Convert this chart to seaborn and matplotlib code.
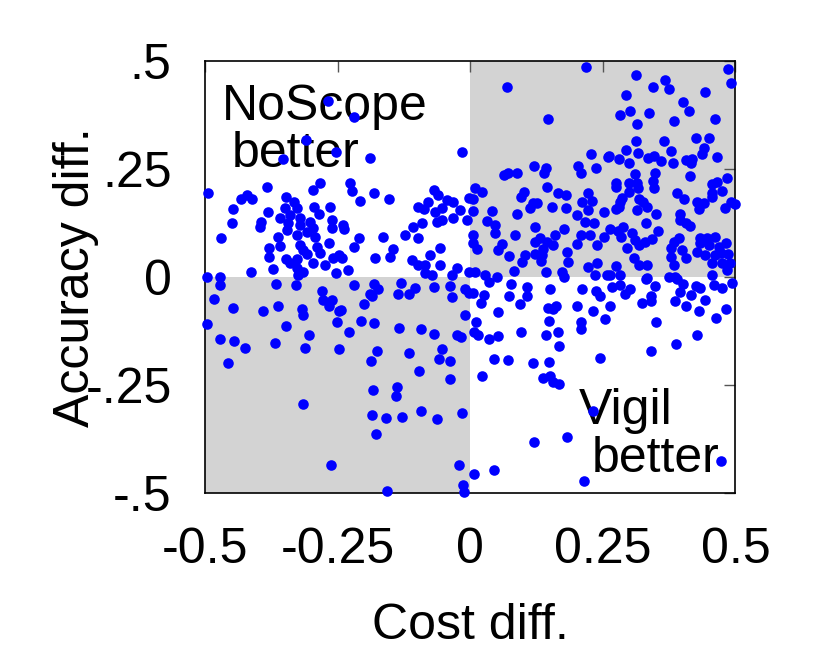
import matplotlib
matplotlib.use("Agg")
import matplotlib.pyplot as plt
from matplotlib.patches import Rectangle
import seaborn as sns
import pandas as pd

# (cost diff, accuracy diff) pairs

# upper left, x < -0.25
pts_ul_far = [(-0.268, 0.408), (-0.309, 0.317), (-0.353, 0.273), (-0.253, 0.290), (-0.494, 0.194),
              (-0.284, 0.217), (-0.296, 0.201), (-0.384, 0.208), (-0.433, 0.181), (-0.420, 0.190),
              (-0.412, 0.181), (-0.448, 0.157), (-0.347, 0.186), (-0.332, 0.174), (-0.349, 0.159),
              (-0.327, 0.159), (-0.381, 0.150), (-0.358, 0.136), (-0.340, 0.144), (-0.321, 0.136),
              (-0.294, 0.163), (-0.286, 0.146), (-0.264, 0.163), (-0.394, 0.128), (-0.396, 0.116),
              (-0.450, 0.124), (-0.343, 0.124), (-0.321, 0.120), (-0.302, 0.128), (-0.261, 0.132),
              (-0.346, 0.109), (-0.327, 0.097), (-0.308, 0.105), (-0.296, 0.113), (-0.292, 0.093),
              (-0.261, 0.113), (-0.470, 0.091), (-0.362, 0.093), (-0.358, 0.072), (-0.379, 0.068),
              (-0.321, 0.074), (-0.315, 0.063), (-0.308, 0.053), (-0.289, 0.070), (-0.267, 0.078),
              (-0.283, 0.055), (-0.379, 0.047), (-0.347, 0.042), (-0.327, 0.042), (-0.340, 0.032),
              (-0.296, 0.032), (-0.274, 0.028), (-0.259, 0.043), (-0.371, 0.018), (-0.327, 0.022),
              (-0.315, 0.012), (-0.413, 0.012), (-0.497, 0.001), (-0.472, 0.001), (-0.324, 0.005),
              (-0.253, 0.009)]

# upper left, -0.25 < x < 0
pts_ul_near = [(-0.220, 0.371), (-0.189, 0.276), (-0.016, 0.290), (-0.226, 0.217), (-0.223, 0.199),
               (-0.208, 0.176), (-0.182, 0.194), (-0.154, 0.181), (-0.069, 0.201), (-0.060, 0.190),
               (-0.099, 0.163), (-0.079, 0.174), (-0.088, 0.157), (-0.066, 0.151), (-0.044, 0.178),
               (-0.032, 0.174), (-0.053, 0.159), (-0.019, 0.155), (-0.032, 0.136), (-0.006, 0.132),
               (-0.003, 0.182), (-0.063, 0.128), (-0.053, 0.132), (-0.239, 0.120), (-0.237, 0.111),
               (-0.090, 0.124), (-0.108, 0.116), (-0.123, 0.097), (-0.099, 0.091), (-0.164, 0.093),
               (-0.209, 0.090), (-0.220, 0.070), (-0.248, 0.051), (-0.242, 0.043), (-0.145, 0.064),
               (-0.151, 0.047), (-0.179, 0.045), (-0.057, 0.068), (-0.075, 0.051), (-0.110, 0.039),
               (-0.098, 0.028), (-0.085, 0.029), (-0.057, 0.029), (-0.025, 0.020), (-0.003, 0.012),
               (-0.085, 0.009), (-0.072, 0.005), (-0.035, 0.005), (-0.230, 0.016)]

# upper right, 0 < x < 0.25
pts_ur_near = [(0.219, 0.485), (0.070, 0.439), (0.147, 0.365), (0.228, 0.285), (0.259, 0.278),
               (0.121, 0.257), (0.142, 0.253), (0.140, 0.241), (0.063, 0.236), (0.072, 0.240),
               (0.088, 0.240), (0.204, 0.257), (0.209, 0.240), (0.238, 0.253), (0.009, 0.207),
               (0.022, 0.197), (0.005, 0.181), (0.145, 0.209), (0.101, 0.197), (0.096, 0.186),
               (0.165, 0.195), (0.181, 0.190), (0.223, 0.195), (0.119, 0.171), (0.126, 0.172),
               (0.113, 0.159), (0.154, 0.161), (0.181, 0.159), (0.211, 0.174), (0.230, 0.177),
               (0.005, 0.153), (0.041, 0.153), (0.088, 0.146), (0.201, 0.144), (0.252, 0.150),
               (0.223, 0.155), (0.032, 0.130), (0.047, 0.120), (0.217, 0.128), (0.233, 0.124),
               (0.047, 0.101), (0.123, 0.115), (0.176, 0.111), (0.160, 0.097), (0.085, 0.097),
               (0.208, 0.097), (0.226, 0.097), (0.252, 0.093), (0.006, 0.097), (0.006, 0.078),
               (0.013, 0.066), (0.060, 0.076), (0.053, 0.063), (0.132, 0.091), (0.145, 0.082),
               (0.123, 0.080), (0.157, 0.074), (0.138, 0.066), (0.123, 0.053), (0.135, 0.051),
               (0.104, 0.051), (0.098, 0.035), (0.074, 0.049), (0.201, 0.076), (0.239, 0.074),
               (0.182, 0.059), (0.185, 0.035), (0.133, 0.037), (0.223, 0.024), (0.239, 0.032),
               (0.236, 0.005), (0.258, 0.005), (0.082, 0.014), (0.143, 0.011), (0.173, 0.012),
               (0.176, 0.001), (0.009, 0.012), (0.028, 0.005), (0.050, 0.001)]

# upper right, x > 0.25
pts_ur_far = [(0.486, 0.481), (0.491, 0.450), (0.313, 0.468), (0.368, 0.456), (0.374, 0.434),
              (0.344, 0.439), (0.443, 0.429), (0.294, 0.421), (0.402, 0.406), (0.412, 0.385),
              (0.302, 0.383), (0.283, 0.375), (0.338, 0.380), (0.315, 0.353), (0.384, 0.362),
              (0.461, 0.366), (0.425, 0.321), (0.450, 0.321), (0.313, 0.315), (0.365, 0.315),
              (0.440, 0.298), (0.437, 0.284), (0.294, 0.294), (0.316, 0.286), (0.379, 0.292),
              (0.465, 0.278), (0.261, 0.280), (0.281, 0.272), (0.300, 0.263), (0.335, 0.275),
              (0.346, 0.280), (0.360, 0.269), (0.382, 0.263), (0.406, 0.271), (0.418, 0.273),
              (0.417, 0.263), (0.415, 0.234), (0.310, 0.238), (0.348, 0.240), (0.345, 0.222),
              (0.346, 0.205), (0.275, 0.218), (0.275, 0.209), (0.300, 0.217), (0.315, 0.217),
              (0.316, 0.205), (0.484, 0.230), (0.455, 0.215), (0.465, 0.221), (0.475, 0.199),
              (0.455, 0.186), (0.456, 0.194), (0.390, 0.195), (0.404, 0.180), (0.299, 0.196),
              (0.286, 0.184), (0.283, 0.174), (0.280, 0.163), (0.318, 0.180), (0.325, 0.174),
              (0.274, 0.157), (0.315, 0.155), (0.333, 0.163), (0.350, 0.147), (0.428, 0.174),
              (0.440, 0.171), (0.432, 0.157), (0.481, 0.159), (0.491, 0.174), (0.500, 0.169),
              (0.396, 0.147), (0.396, 0.132), (0.406, 0.124), (0.415, 0.119), (0.332, 0.124),
              (0.355, 0.107), (0.264, 0.111), (0.279, 0.107), (0.289, 0.116), (0.285, 0.093),
              (0.305, 0.101), (0.311, 0.086), (0.318, 0.074), (0.329, 0.082), (0.343, 0.087),
              (0.296, 0.068), (0.394, 0.091), (0.384, 0.082), (0.379, 0.068), (0.399, 0.063),
              (0.407, 0.043), (0.379, 0.047), (0.384, 0.028), (0.434, 0.091), (0.447, 0.090),
              (0.462, 0.093), (0.434, 0.078), (0.450, 0.074), (0.469, 0.070), (0.482, 0.078),
              (0.428, 0.059), (0.443, 0.051), (0.462, 0.051), (0.472, 0.055), (0.487, 0.053),
              (0.456, 0.032), (0.475, 0.032), (0.489, 0.032), (0.484, 0.016), (0.308, 0.043),
              (0.318, 0.028), (0.333, 0.028), (0.274, 0.025), (0.264, 0.005), (0.283, 0.005),
              (0.333, -0.002), (0.374, 0.001), (0.387, 0.001), (0.456, 0.005)]

# lower left, x < -0.25
pts_ll_far = [(-0.472, -0.019), (-0.483, -0.050), (-0.448, -0.072), (-0.390, -0.079), (-0.362, -0.066),
              (-0.367, -0.016), (-0.328, -0.019), (-0.318, -0.073), (-0.315, -0.087), (-0.280, -0.033),
              (-0.277, -0.054), (-0.267, -0.066), (-0.261, -0.052), (-0.248, -0.079), (-0.251, -0.104),
              (-0.496, -0.109), (-0.348, -0.113), (-0.303, -0.135), (-0.472, -0.144), (-0.445, -0.148),
              (-0.425, -0.164), (-0.368, -0.153), (-0.311, -0.164), (-0.248, -0.166), (-0.457, -0.198),
              (-0.316, -0.293), (-0.262, -0.434)]

# lower left, -0.25 < x < 0
pts_ll_near = [(-0.219, -0.019), (-0.181, -0.016), (-0.174, -0.028), (-0.189, -0.039), (-0.185, -0.044),
               (-0.200, -0.062), (-0.131, -0.014), (-0.136, -0.040), (-0.115, -0.040), (-0.104, -0.025),
               (-0.069, -0.023), (-0.038, -0.021), (-0.035, -0.046), (-0.009, -0.028), (-0.003, -0.036),
               (-0.243, -0.077), (-0.206, -0.102), (-0.181, -0.106), (-0.228, -0.127), (-0.135, -0.118),
               (-0.093, -0.120), (-0.068, -0.131), (-0.024, -0.135), (-0.018, -0.139), (-0.009, -0.087),
               (-0.175, -0.170), (-0.187, -0.194), (-0.115, -0.175), (-0.053, -0.167), (-0.058, -0.189),
               (-0.039, -0.194), (-0.096, -0.218), (-0.039, -0.235), (-0.184, -0.261), (-0.138, -0.255),
               (-0.140, -0.276), (-0.185, -0.320), (-0.158, -0.326), (-0.128, -0.324), (-0.093, -0.309),
               (-0.063, -0.328), (-0.015, -0.314), (-0.177, -0.363), (-0.022, -0.434), (-0.013, -0.482),
               (-0.011, -0.498), (-0.156, -0.496)]

# lower right, 0 < x < 0.25
pts_lr_near = [(0.077, -0.017), (0.108, -0.023), (0.150, -0.027), (0.211, -0.027), (0.238, -0.032),
               (0.245, -0.044), (0.005, -0.036), (0.026, -0.042), (0.021, -0.059), (0.074, -0.044),
               (0.107, -0.044), (0.094, -0.062), (0.052, -0.081), (0.146, -0.072), (0.162, -0.067),
               (0.157, -0.075), (0.202, -0.066), (0.231, -0.079), (0.255, -0.097), (0.011, -0.103),
               (0.008, -0.127), (0.014, -0.135), (0.036, -0.144), (0.053, -0.137), (0.096, -0.126),
               (0.149, -0.102), (0.142, -0.134), (0.165, -0.127), (0.167, -0.160), (0.209, -0.104),
               (0.209, -0.121), (0.045, -0.189), (0.072, -0.191), (0.118, -0.198), (0.149, -0.197),
               (0.022, -0.228), (0.138, -0.234), (0.151, -0.228), (0.156, -0.243), (0.168, -0.247),
               (0.245, -0.187), (0.232, -0.309), (0.121, -0.382), (0.182, -0.370), (0.008, -0.455),
               (0.045, -0.447), (0.214, -0.471), (0.036, -0.012)]

# lower right, x > 0.25
pts_lr_far = [(0.283, -0.019), (0.302, -0.028), (0.267, -0.023), (0.291, -0.039), (0.264, -0.066),
              (0.332, -0.004), (0.349, -0.021), (0.340, -0.044), (0.340, -0.056), (0.323, -0.059),
              (0.390, -0.004), (0.402, -0.016), (0.396, -0.035), (0.417, -0.041), (0.426, -0.021),
              (0.434, -0.025), (0.387, -0.056), (0.407, -0.066), (0.443, -0.052), (0.431, -0.079),
              (0.459, -0.018), (0.474, -0.025), (0.494, -0.014), (0.482, -0.075), (0.464, -0.095),
              (0.351, -0.104), (0.428, -0.134), (0.388, -0.154), (0.340, -0.172), (0.472, -0.426)]

x_ticks = [-0.5, -0.25, 0, 0.25, 0.5]
x_labels = ["-0.5", "-0.25", "0", "0.25", "0.5"]
y_ticks = [-0.5, -0.25, 0, 0.25, 0.5]
y_labels = ["-.5", "-.25", "0", ".25", ".5"]

all_pts = (pts_ul_far + pts_ul_near + pts_ur_near + pts_ur_far
           + pts_ll_far + pts_ll_near + pts_lr_near + pts_lr_far)
df = pd.DataFrame(all_pts, columns=["cost", "acc"])

sns.set_style("white")
plt.rcParams['font.family'] = ['Liberation Sans', 'DejaVu Sans']
plt.rcParams['text.color'] = 'black'
plt.rcParams['axes.labelcolor'] = 'black'
plt.rcParams['xtick.color'] = 'black'
plt.rcParams['ytick.color'] = 'black'

fig = plt.figure(figsize=(8.3, 6.62), dpi=100)
ax = fig.add_axes([0.247, 0.255, 0.639, 0.653])

# grey quadrants where one system wins on both counts
ax.add_patch(Rectangle((0, 0), 0.5, 0.5, facecolor="#d3d3d3", edgecolor="none", zorder=0))
ax.add_patch(Rectangle((-0.5, -0.5), 0.5, 0.5, facecolor="#d3d3d3", edgecolor="none", zorder=0))

sns.scatterplot(data=df, x="cost", y="acc", ax=ax, color="#0000ff", s=58,
                linewidth=0, clip_on=False, zorder=3, legend=False)

ax.set_xlim(-0.5, 0.5)
ax.set_ylim(-0.5, 0.5)
ax.set_xticks(x_ticks)
ax.set_xticklabels(x_labels)
ax.set_yticks(y_ticks)
ax.set_yticklabels(y_labels)
ax.tick_params(direction="in", length=8, width=1, top=True, right=True,
               labelsize=36, pad=24, color="#555555")
for sp in ax.spines.values():
    sp.set_linewidth(1.2)
    sp.set_color("black")
    sp.set_zorder(2)

ax.set_xlabel("Cost diff.", fontsize=36)
ax.set_ylabel("Accuracy diff.", fontsize=36)
ax.xaxis.set_label_coords(0.5, -0.255)
ax.yaxis.set_label_coords(-0.2, 0.5)

ax.text(-0.468, 0.363, "NoScope", fontsize=36, va="baseline", ha="left", zorder=2.5)
ax.text(-0.449, 0.255, "better", fontsize=36, va="baseline", ha="left", zorder=2.5)
ax.text(0.204, -0.340, "Vigil", fontsize=36, va="baseline", ha="left", zorder=2.5)
ax.text(0.229, -0.451, "better", fontsize=36, va="baseline", ha="left", zorder=2.5)

fig.savefig("out.png", dpi=100, facecolor="white")
